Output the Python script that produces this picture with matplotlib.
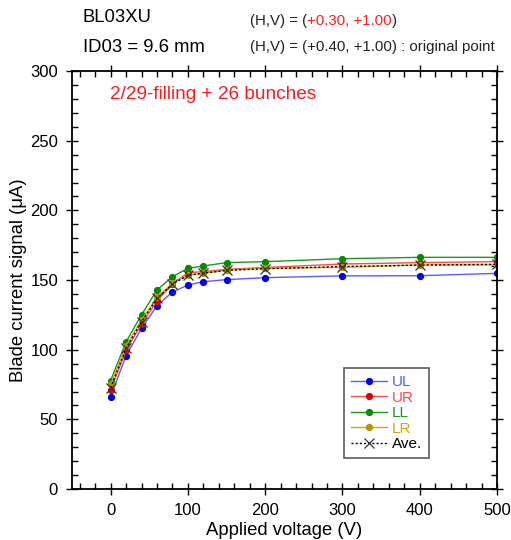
import numpy as np
import matplotlib
matplotlib.use("Agg")
from matplotlib import pyplot as plt
from matplotlib.ticker import MultipleLocator

plt.rcParams["font.family"] = ["Liberation Sans", "DejaVu Sans"]

# applied voltage (V)
voltage = [0, 20, 40, 60, 80, 100, 120, 150, 200, 300, 400, 500]

# blade current signals (uA)
ul = [66.3, 95.7, 115.3, 131.6, 141.4, 146.4, 148.8, 150.3, 151.7, 153.0, 153.1, 154.8]
ur = [71.1, 99.6, 118.4, 135.0, 147.0, 155.3, 156.0, 157.7, 159.0, 161.5, 162.5, 163.2]
ll = [77.8, 105.7, 125.1, 142.9, 152.4, 158.4, 160.1, 162.5, 163.2, 165.3, 166.3, 166.3]
lr = [75.2, 102.9, 121.3, 137.6, 147.6, 153.6, 154.8, 157.2, 158.4, 159.1, 160.9, 160.8]
ave = [72.6, 101.0, 120.0, 136.8, 147.1, 153.4, 154.9, 156.9, 158.1, 159.7, 160.7, 161.3]

series = [
    ("UL", ul, "#0000ee", "#5a5aff"),
    ("UR", ur, "#e00000", "#ff4a4a"),
    ("LL", ll, "#008c00", "#1a9a1a"),
    ("LR", lr, "#b89000", "#d4a800"),
]

fig = plt.figure(figsize=(5.11, 5.40), dpi=100)
ax = fig.add_axes([0.1409, 0.0944, 0.8317, 0.774])

for name, vals, mcol, lcol in series:
    ax.plot(voltage, vals, color=lcol, lw=1.0, marker="o", ms=4.2,
            mfc=mcol, mec=mcol, label=name)
ax.plot(voltage, ave, color="black", lw=1.0, ls=(0, (1.5, 1.5)), marker="x",
        ms=7, mew=0.9, mec="#333333", label="Ave.")

ax.set_xlim(-50, 500)
ax.set_ylim(0, 300)
ax.xaxis.set_major_locator(MultipleLocator(100))
ax.xaxis.set_minor_locator(MultipleLocator(20))
ax.yaxis.set_major_locator(MultipleLocator(50))
ax.yaxis.set_minor_locator(MultipleLocator(10))
ax.tick_params(which="both", top=True, right=True, labelsize=12, width=1.0)
ax.tick_params(which="major", direction="inout", length=8, pad=6)
ax.tick_params(which="minor", direction="in", length=4)
for sp in ax.spines.values():
    sp.set_linewidth(1.3)

ax.set_xlabel("Applied voltage (V)", fontsize=13.3, labelpad=3)
ax.set_ylabel("Blade current signal (\u03bcA)", fontsize=13.3, labelpad=2.5)

leg = ax.legend(loc="lower right", bbox_to_anchor=(0.84, 0.074), fontsize=11,
                frameon=True, fancybox=False, edgecolor="#333333",
                handlelength=2.4, handletextpad=0.3, labelspacing=0.1,
                borderpad=0.45, borderaxespad=0)
leg.get_frame().set_linewidth(1.2)
for txt, (_, _, mcol, lcol) in zip(leg.get_texts(), series):
    txt.set_color(lcol)

ax.text(0.089, 0.945, "2/29-filling + 26 bunches", transform=ax.transAxes,
        color="#ff1a1a", fontsize=13.7, va="center", ha="left")

fig.text(83 / 511, 1 - 18 / 540, "BL03XU", fontsize=13.3, va="center", ha="left")
fig.text(83 / 511, 1 - 48 / 540, "ID03 = 9.6 mm", fontsize=13.3, va="center", ha="left")

x0 = 250 / 511
hs = 10.8
t1 = fig.text(x0, 1 - 21 / 540, "(H,V) = (", fontsize=hs, va="center", ha="left",
              color="#222222")
fig.canvas.draw()
r = fig.canvas.get_renderer()
bb = t1.get_window_extent(r)
t2 = fig.text(bb.x1 / fig.bbox.width, 1 - 21 / 540, "+0.30, +1.00", fontsize=hs,
              va="center", ha="left", color="#ff2020")
bb2 = t2.get_window_extent(r)
fig.text(bb2.x1 / fig.bbox.width, 1 - 21 / 540, ")", fontsize=hs, va="center",
         ha="left", color="#222222")
fig.text(x0, 1 - 47 / 540, "(H,V) = (+0.40, +1.00) : original point", fontsize=hs,
         va="center", ha="left", color="#222222")

fig.savefig("out.png", dpi=100)
